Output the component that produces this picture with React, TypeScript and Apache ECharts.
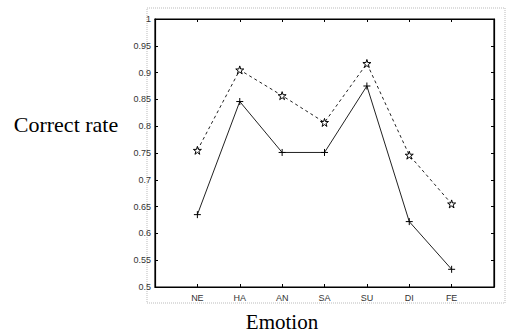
import React, { useEffect, useRef } from "react";
import * as echarts from "echarts";

const categories = ["", "NE", "HA", "AN", "SA", "SU", "DI", "FE", ""];
const starSeries = [null, 0.755, 0.905, 0.857, 0.807, 0.917, 0.746, 0.655, null];
const plusSeries = [null, 0.635, 0.846, 0.751, 0.751, 0.875, 0.622, 0.533, null];
const yTicks = [0.5, 0.55, 0.6, 0.65, 0.7, 0.75, 0.8, 0.85, 0.9, 0.95, 1];

const STAR =
  "path://M50,0 L61,35 L98,35 L68,57 L79,91 L50,70 L21,91 L32,57 L2,35 L39,35 Z";
const PLUS = "path://M50,0 L50,100 M0,50 L100,50";

export default function App() {
  const ref = useRef<HTMLDivElement>(null);
  useEffect(() => {
    const chart = echarts.init(ref.current!, undefined, { renderer: "svg" });
    const labelStyle = {
      fontFamily: "Liberation Sans, Arial, sans-serif",
      fontSize: 9,
      color: "#333",
    };
    chart.setOption({
      animation: false,
      backgroundColor: "#fff",
      grid: {
        left: 155,
        right: 13,
        top: 19,
        bottom: 48,
        show: true,
        borderColor: "#000",
        borderWidth: 1.2,
      },
      graphic: [
        {
          type: "rect",
          shape: { x: 147, y: 8, width: 358, height: 295 },
          style: { fill: "none", stroke: "#bbb", lineWidth: 1, lineDash: [1, 1] },
          silent: true,
        },
        {
          type: "text",
          x: 66,
          y: 124,
          style: {
            text: "Correct rate",
            fontFamily: "Liberation Serif, Times New Roman, serif",
            fontSize: 22,
            fill: "#000",
            align: "center",
            verticalAlign: "middle",
          },
        },
        {
          type: "text",
          x: 282,
          y: 322,
          style: {
            text: "Emotion",
            fontFamily: "Liberation Serif, Times New Roman, serif",
            fontSize: 21,
            fill: "#000",
            align: "center",
            verticalAlign: "middle",
          },
        },
      ],
      xAxis: [
        {
          type: "category",
          data: categories,
          boundaryGap: false,
          position: "bottom",
          axisLine: { lineStyle: { color: "#000", width: 1.2 } },
          axisTick: { inside: true, length: 3, lineStyle: { color: "#000" } },
          axisLabel: { ...labelStyle, margin: 6, interval: 0 },
          splitLine: { show: false },
        },
        {
          type: "category",
          data: categories,
          boundaryGap: false,
          position: "top",
          axisLine: { lineStyle: { color: "#000", width: 1.2 } },
          axisTick: { inside: true, length: 3, lineStyle: { color: "#000" } },
          axisLabel: { show: false },
          splitLine: { show: false },
        },
      ],
      yAxis: [
        {
          type: "value",
          min: 0.5,
          max: 1,
          interval: 0.05,
          position: "left",
          axisLine: { show: true, lineStyle: { color: "#000", width: 1.2 } },
          axisTick: { show: true, inside: true, length: 3, lineStyle: { color: "#000" } },
          axisLabel: {
            ...labelStyle,
            margin: 4,
            formatter: (v: number) => {
              const t = yTicks.find((y) => Math.abs(y - v) < 1e-6);
              return t === undefined ? "" : String(+t.toFixed(2));
            },
          },
          splitLine: { show: false },
        },
        {
          type: "value",
          min: 0.5,
          max: 1,
          interval: 0.05,
          position: "right",
          axisLine: { show: true, lineStyle: { color: "#000", width: 1.2 } },
          axisTick: { show: true, inside: true, length: 3, lineStyle: { color: "#000" } },
          axisLabel: { show: false },
          splitLine: { show: false },
        },
      ],
      series: [
        {
          type: "line",
          data: starSeries,
          symbol: STAR,
          symbolSize: 8,
          showSymbol: true,
          lineStyle: { color: "#222", width: 1, type: [3, 3] },
          itemStyle: { color: "#fff", borderColor: "#000", borderWidth: 1 },
          connectNulls: false,
        },
        {
          type: "line",
          data: plusSeries,
          symbol: PLUS,
          symbolSize: 7,
          showSymbol: true,
          lineStyle: { color: "#222", width: 1 },
          itemStyle: { color: "none", borderColor: "#000", borderWidth: 1 },
          connectNulls: false,
        },
      ],
    });
    return () => chart.dispose();
  }, []);
  return (
    <div
      ref={ref}
      style={{ position: "absolute", left: 0, top: 0, width: 507, height: 335 }}
    />
  );
}
